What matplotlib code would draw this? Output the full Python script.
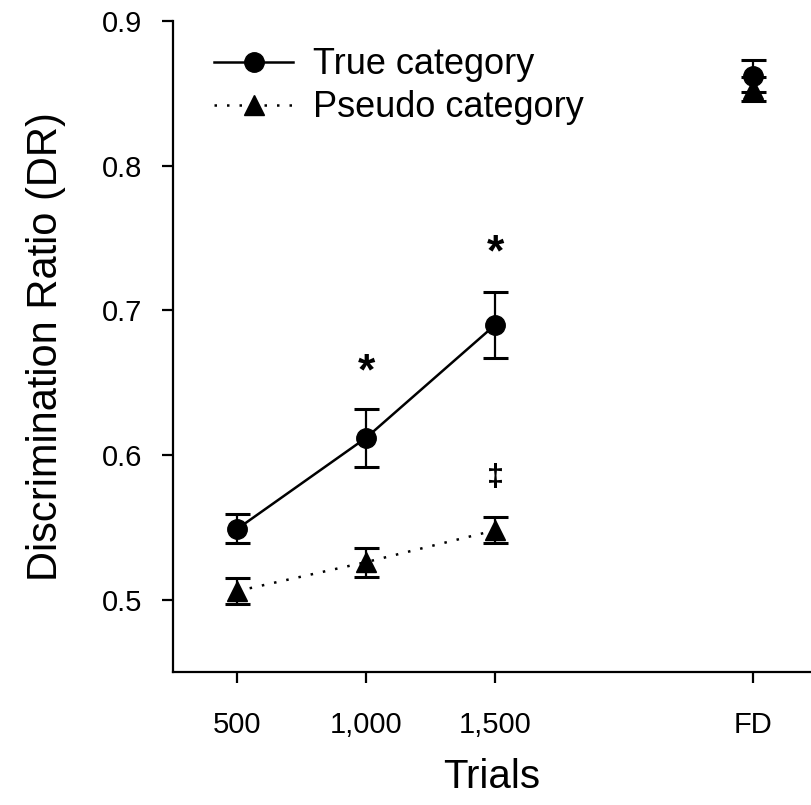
import matplotlib.pyplot as plt
from matplotlib.lines import Line2D

plt.rcParams['font.family'] = ['Liberation Sans', 'DejaVu Sans']

# values
tick_labels = ['500', '1,000', '1,500', 'FD']
tick_pos = [1, 2, 3, 5]

true_x = [1, 2, 3]
true_mean = [0.549, 0.612, 0.690]
true_err = [0.010, 0.020, 0.023]

pseudo_x = [1, 2, 3]
pseudo_mean = [0.506, 0.526, 0.548]
pseudo_err = [0.009, 0.010, 0.009]

fd_true_mean, fd_true_err = 0.862, 0.011
fd_pseudo_mean, fd_pseudo_err = 0.853, 0.008

star_x = [2, 3]
star_y = [0.657, 0.739]
dagger_x = [3]
dagger_y = [0.584]

fig = plt.figure(figsize=(8.11, 8.05), dpi=100)
ax = fig.add_axes([173 / 811, 133 / 805, (811 - 173) / 811, 651 / 805])

err_kw = dict(ecolor='black', elinewidth=1.6, capsize=9, capthick=2.2)
dots = (0, (1, 4))

ax.errorbar(true_x, true_mean, yerr=true_err, color='black', lw=1.8,
            marker='o', markersize=14, **err_kw)
ax.errorbar(pseudo_x, pseudo_mean, yerr=pseudo_err, color='black', lw=1.8,
            linestyle=dots, marker='^', markersize=15, **err_kw)

# final discrimination, not joined to the lines
ax.errorbar([5], [fd_true_mean], yerr=[fd_true_err], color='black',
            marker='o', markersize=14, linestyle='none', **err_kw)
ax.errorbar([5], [fd_pseudo_mean], yerr=[fd_pseudo_err], color='black',
            marker='^', markersize=15, linestyle='none', **err_kw)

for x, y in zip(star_x, star_y):
    ax.text(x, y, '*', fontsize=32, ha='center', va='center', fontweight='bold')
for x, y in zip(dagger_x, dagger_y):
    ax.text(x, y, '\u2021', fontsize=22, ha='center', va='center',
            fontweight='bold')

ax.set_xlim(0.5, 5.45)
ax.set_ylim(0.45, 0.9)
ax.set_xticks(tick_pos)
ax.set_xticklabels(tick_labels)
ax.set_yticks([0.5, 0.6, 0.7, 0.8, 0.9])
ax.set_yticklabels(['0.5', '0.6', '0.7', '0.8', '0.9'])
ax.tick_params(axis='both', direction='out', length=8, width=1.6,
               labelsize=21)
ax.tick_params(axis='x', pad=20)
ax.tick_params(axis='y', pad=14)

ax.spines['top'].set_visible(False)
ax.spines['right'].set_visible(False)
ax.spines['left'].set_bounds(0.45, 0.9)
ax.spines['left'].set_linewidth(1.6)
ax.spines['bottom'].set_linewidth(1.6)

ax.set_ylabel('Discrimination Ratio (DR)', fontsize=30, labelpad=26)
ax.set_xlabel('Trials', fontsize=29, labelpad=14)

handles = [
    Line2D([], [], color='black', lw=1.8, marker='o', markersize=14),
    Line2D([], [], color='black', lw=1.8, linestyle=dots, marker='^',
           markersize=15),
]
ax.legend(handles, ['True category', 'Pseudo category'], loc='upper left',
          bbox_to_anchor=(0.03, 0.993), fontsize=26, frameon=False,
          handlelength=2.2, handletextpad=0.55, labelspacing=0.22,
          borderaxespad=0.2)

fig.savefig('out.png', dpi=100)
